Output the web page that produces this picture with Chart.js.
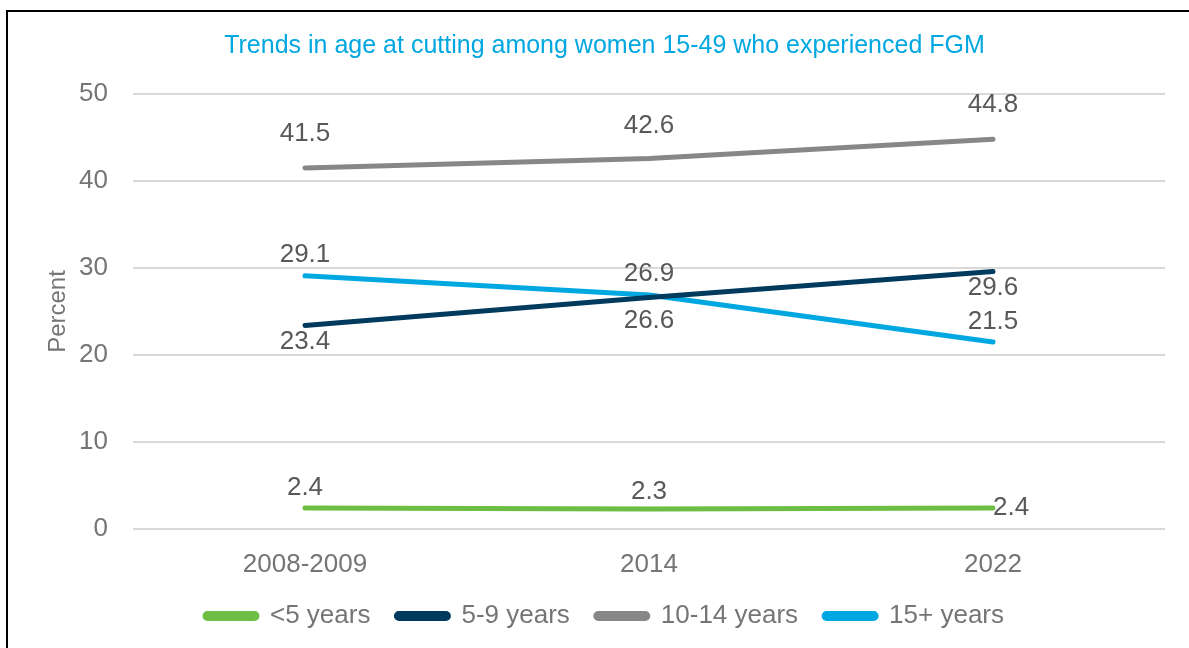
<!DOCTYPE html>
<html>
<head>
<meta charset="utf-8">
<script src="https://cdn.jsdelivr.net/npm/chart.js@4.4.1/dist/chart.umd.min.js"></script>
<style>
  html, body { margin: 0; padding: 0; background: #ffffff; }
  #wrap { position: relative; width: 1189px; height: 648px; overflow: hidden; }
  #frame { position: absolute; left: 6px; top: 10px; width: 1300px; height: 800px; border: 2px solid #000; box-sizing: border-box; pointer-events: none; }
  canvas { position: absolute; left: 0; top: 0; }
</style>
</head>
<body>
<div id="wrap">
  <canvas id="c" width="1189" height="648"></canvas>
  <div id="frame"></div>
</div>
<script>
const categories = ["2008-2009", "2014", "2022"];
const under5 = [2.4, 2.3, 2.4];
const age5to9 = [23.4, 26.6, 29.6];
const age10to14 = [41.5, 42.6, 44.8];
const age15plus = [29.1, 26.9, 21.5];
const seriesNames = ["<5 years", "5-9 years", "10-14 years", "15+ years"];
const yTicks = [0, 10, 20, 30, 40, 50];

const FONT = "'Liberation Sans', Arial, sans-serif";

const dataLabels = {
  id: 'dataLabels',
  afterDatasetsDraw(chart) {
    const ctx = chart.ctx;
    ctx.save();
    ctx.font = "26px " + FONT;
    ctx.fillStyle = "#595959";
    chart.data.datasets.forEach((ds, i) => {
      const meta = chart.getDatasetMeta(i);
      meta.data.forEach((pt, j) => {
        const off = ds.labelOffsets[j];
        const txt = ds.data[j].toFixed(1);
        ctx.textAlign = off[2] || 'center';
        ctx.textBaseline = 'middle';
        ctx.fillText(txt, pt.x + off[0], pt.y + off[1]);
      });
    });
    ctx.restore();
  }
};

function mk(label, data, color, offsets) {
  return {
    label, data,
    borderColor: color, backgroundColor: color,
    borderWidth: 5, pointRadius: 0, pointHoverRadius: 0,
    tension: 0, borderCapStyle: 'round', borderJoinStyle: 'round',
    labelOffsets: offsets
  };
}

new Chart(document.getElementById('c'), {
  type: 'line',
  data: {
    labels: categories,
    datasets: [
      mk(seriesNames[0], under5, '#6CBE45', [[0, -20], [0, -17], [0, 0, 'left']]),
      mk(seriesNames[1], age5to9, '#003A5D', [[0, 16], [0, 23], [0, 16]]),
      mk(seriesNames[2], age10to14, '#878787', [[0, -34], [0, -33], [0, -34]]),
      mk(seriesNames[3], age15plus, '#00A7E1', [[0, -21], [0, -21], [0, -20]])
    ]
  },
  options: {
    responsive: false,
    animation: false,
    layout: { padding: { left: 44, right: 24, top: 0, bottom: 9 } },
    plugins: {
      title: {
        display: true,
        text: 'Trends in age at cutting among women 15-49 who experienced FGM',
        color: '#00A7E1',
        font: { family: FONT, size: 25, weight: 'normal' },
        padding: { top: 31, bottom: 33 }
      },
      legend: {
        position: 'bottom',
        labels: {
          color: '#757575',
          font: { family: FONT, size: 26 },
          boxWidth: 52, boxHeight: 5,
          useBorderRadius: true, borderRadius: 2.5,
          padding: 26
        }
      },
      tooltip: { enabled: false }
    },
    scales: {
      x: {
        offset: true,
        afterFit(scale) { scale.height = 48; },
        grid: { display: false },
        border: { display: false },
        ticks: { color: '#757575', font: { family: FONT, size: 26 }, padding: 12 }
      },
      y: {
        min: 0, max: 50,
        afterBuildTicks(scale) { scale.ticks = yTicks.map(v => ({ value: v })); },
        afterFit(scale) { scale.width = 89; },
        grid: { color: '#D9D9D9', lineWidth: 2, drawTicks: false },
        border: { display: false },
        ticks: { color: '#757575', font: { family: FONT, size: 26 }, padding: 25 },
        title: { display: true, text: 'Percent', color: '#757575', font: { family: FONT, size: 24 }, padding: { top: 0, bottom: 0 } }
      }
    }
  },
  plugins: [dataLabels]
});
</script>
</body>
</html>
